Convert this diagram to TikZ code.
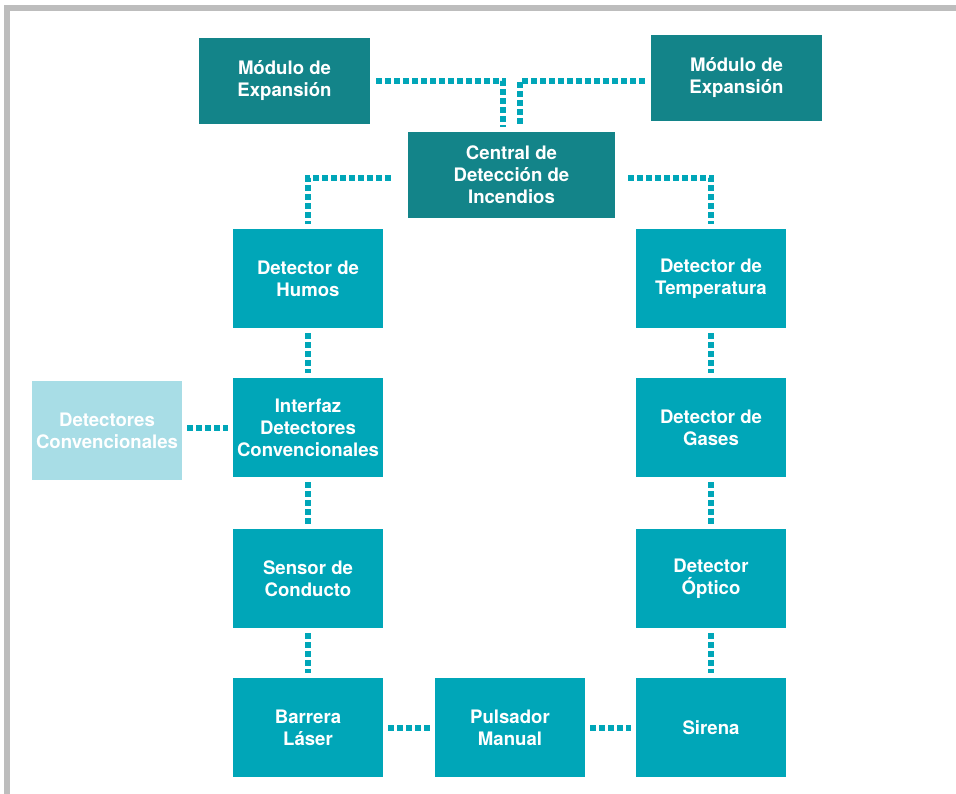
\documentclass[tikz,border=0pt]{standalone}
\usepackage{fontspec}
\setmainfont{TeX Gyre Heros}
\definecolor{tealdark}{HTML}{138489}
\definecolor{tealmid}{HTML}{00A6B8}
\definecolor{teallight}{HTML}{A8DDE6}
\definecolor{framegrey}{HTML}{BDBDBD}
\tikzset{
  box/.style={fill=tealmid, text=white, font=\bfseries\fontsize{18.6}{22}\selectfont,
    align=center, inner sep=0pt, minimum width=150pt, minimum height=99pt},
  mainbox/.style={box, fill=tealdark, minimum width=171pt, minimum height=86pt},
  softbox/.style={box, fill=teallight},
  dots/.style={draw=tealmid, line width=6pt, dash pattern=on 6pt off 3pt},
  link/.style={dots, shorten <=5pt, shorten >=5pt}
}
\begin{document}
\begin{tikzpicture}[x=1pt, y=-1pt]
\useasboundingbox (0,0) rectangle (956,794);
%frame, top and left only
\fill[framegrey] (4,5) rectangle (956,11);
\fill[framegrey] (4,5) rectangle (10,794);
%
\node[mainbox] (modL) at (284.5,81) {Módulo de\\Expansión};
\node[mainbox] (modR) at (736.5,78) {Módulo de\\Expansión};
\node[mainbox, minimum width=207pt] (central) at (511.5,175) {Central de\\Detección de\\Incendios};
%left column
\node[box] (humos)    at (308,278.5) {Detector de\\Humos};
\node[box] (interfaz) at (308,427.5) {Interfaz\\Detectores\\Convencionales};
\node[box] (conducto) at (308,578.5) {Sensor de\\Conducto};
\node[box] (barrera)  at (308,727.5) {Barrera\\Láser};
\node[softbox] (conv) at (107,430.5) {Detectores\\Convencionales};
%right column
\node[box] (temp)     at (711,278.5) {Detector de\\Temperatura};
\node[box] (gases)    at (711,427.5) {Detector de\\Gases};
\node[box] (optico)   at (711,578.5) {Detector\\Óptico};
\node[box] (sirena)   at (711,727.5) {Sirena};
\node[box] (pulsador) at (510,727.5) {Pulsador\\Manual};
%
%  modL ....  .... modR
%          :  :
%        central
%
\draw[dots] ([xshift=6pt]modL.east) -| ([xshift=-8.5pt, yshift=5pt]central.north);
\draw[dots] ([xshift=-6pt, yshift=-3pt]modR.west) -| ([xshift=8.5pt, yshift=5pt]central.north);
\draw[dots] ([xshift=-17pt, yshift=-3pt]central.west) -| ([yshift=5pt]humos.north);
\draw[dots] ([xshift=13pt, yshift=-3pt]central.east) -| ([yshift=5pt]temp.north);
%down the columns
\draw[link] (humos) -- (interfaz);
\draw[link] (interfaz) -- (conducto);
\draw[link] (conducto) -- (barrera);
\draw[link] (temp) -- (gases);
\draw[link] (gases) -- (optico);
\draw[link] (optico) -- (sirena);
%across
\draw[link] (conv.east |- interfaz.west) -- (interfaz.west);
\draw[link] (barrera) -- (pulsador);
\draw[link] (pulsador) -- (sirena);
\end{tikzpicture}
\end{document}
